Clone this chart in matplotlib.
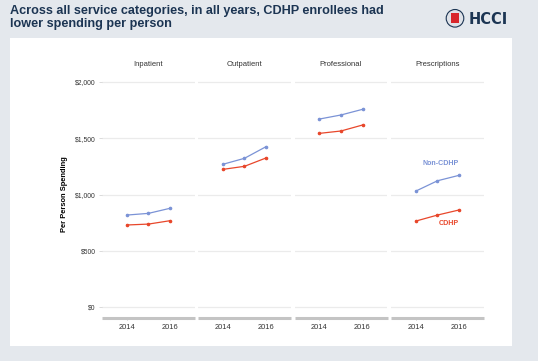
import numpy as np
import matplotlib.pyplot as plt
from matplotlib.patches import Rectangle, Circle

plt.rcParams['font.family'] = ['Liberation Sans', 'DejaVu Sans']

# data
categories = ['Inpatient', 'Outpatient', 'Professional', 'Prescriptions']
years = [2014, 2015, 2016]
non_cdhp = [
    [818, 833, 878],
    [1268, 1321, 1424],
    [1669, 1705, 1755],
    [1031, 1122, 1170],
]
cdhp = [
    [730, 738, 768],
    [1223, 1250, 1324],
    [1542, 1563, 1616],
    [765, 818, 863],
]
y_ticks = [0, 500, 1000, 1500, 2000]
y_tick_labels = ['$0', '$500', '$1,000', '$1,500', '$2,000']
x_ticks = [2014, 2016]

W, H = 538, 361
blue = '#7b93d6'
red = '#e8472b'
navy = '#1c3553'

fig = plt.figure(figsize=(W / 100, H / 100), dpi=100)
fig.patch.set_facecolor('#e4e8ed')

# white card
fig.add_artist(Rectangle((10 / W, 1 - 346 / H), 502 / W, 308 / H,
                         transform=fig.transFigure, facecolor='white',
                         edgecolor='none', zorder=0))

fig.text(10 / W, 1 - 5 / H, 'Across all service categories, in all years, CDHP enrollees had\nlower spending per person',
         fontsize=9.1, fontweight='bold', color=navy, va='top', ha='left',
         linespacing=1.15)

# logo (positions in inches, dpi=100)
fig.add_artist(Circle((4.55, (H - 18.3) / 100), 0.088, transform=fig.dpi_scale_trans,
                      facecolor='#dfe2e8', edgecolor=navy, linewidth=0.8))
fig.add_artist(Rectangle((4.51, (H - 23) / 100), 0.08, 0.095, transform=fig.dpi_scale_trans,
                         facecolor='#d8262b', edgecolor='none'))
fig.text(469 / W, 1 - 19.3 / H, 'HCCI', fontsize=10.5, fontweight='bold', color=navy,
         va='center', ha='left', family='DejaVu Sans')

ylo, yhi = -97, 2100
ax_top, ax_bot = 1 - 70.4 / H, 1 - 318.3 / H
panel_lefts = [102, 198, 294.5, 391]
pw = 93

for i, cat in enumerate(categories):
    ax = fig.add_axes([panel_lefts[i] / W, ax_bot, pw / W, ax_top - ax_bot])
    ax.set_facecolor('white')
    ax.set_xlim(2012.84, 2017.16)
    ax.set_ylim(ylo, yhi)
    for yt in y_ticks:
        ax.axhline(yt, color='#ebebeb', linewidth=0.9, zorder=0)
    ax.plot(years, non_cdhp[i], color=blue, linewidth=0.9, marker='o', markersize=1.6)
    ax.plot(years, cdhp[i], color=red, linewidth=0.9, marker='o', markersize=1.6)
    for s in ['top', 'right', 'left']:
        ax.spines[s].set_visible(False)
    ax.spines['bottom'].set_color('#c4c4c4')
    ax.spines['bottom'].set_linewidth(2.2)
    ax.spines['bottom'].set_capstyle('butt')
    ax.set_xticks(x_ticks)
    ax.set_xticklabels([str(x) for x in x_ticks])
    ax.tick_params(axis='x', length=1.5, width=0.5, color='#aaaaaa', pad=2.5,
                   labelsize=5.4, labelcolor='#333333')
    ax.set_yticks(y_ticks)
    if i == 0:
        ax.set_yticklabels(y_tick_labels)
        ax.tick_params(axis='y', length=2, width=0.5, color='#cccccc', pad=2.5,
                       labelsize=4.9, labelcolor='#333333')
        ax.set_ylabel('Per Person Spending', fontsize=5.4, fontweight='bold', labelpad=5)
    else:
        ax.tick_params(axis='y', length=0, labelleft=False)
    fig.text((panel_lefts[i] + pw / 2) / W, 1 - 65 / H, cat, fontsize=5.5,
             color='#333333', ha='center', va='center')
    if cat == 'Prescriptions':
        ax.text(2016, 1279, 'Non-CDHP', color=blue, fontsize=5.1, fontweight='bold',
                ha='right', va='center')
        ax.text(2016, 747, 'CDHP', color=red, fontsize=5.1, fontweight='bold',
                ha='right', va='center')

fig.savefig('out.png', dpi=100, facecolor=fig.get_facecolor())
